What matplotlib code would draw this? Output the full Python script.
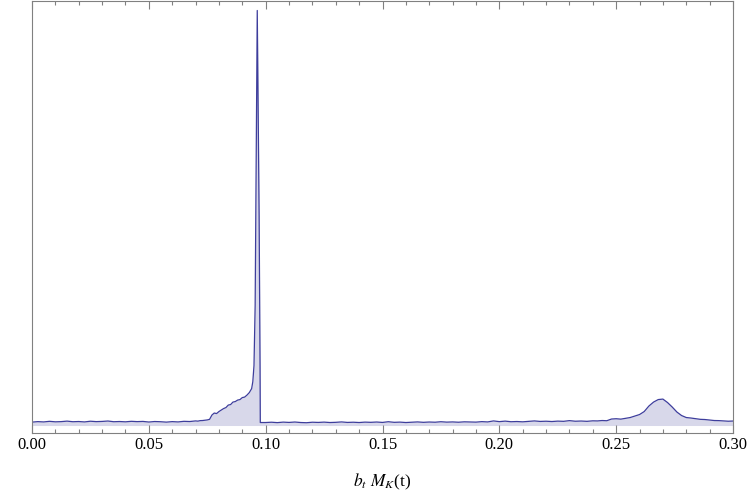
import matplotlib
matplotlib.use("Agg")
import matplotlib.pyplot as plt
from matplotlib.ticker import MultipleLocator, FormatStrFormatter

LINE = "#3d3d9c"; FILL = "#d8d8ea"; FRAME = "#808080"
plt.rcParams.update({"font.family": "Liberation Serif", "mathtext.fontset": "stix",
                     "font.size": 12})

# floor before the edge (step 0.0025)
x_low = [0.0000, 0.0025, 0.0050, 0.0075, 0.0100, 0.0125, 0.0150, 0.0175, 0.0200, 0.0225,
         0.0250, 0.0275, 0.0300, 0.0325, 0.0350, 0.0375, 0.0400, 0.0425, 0.0450, 0.0475,
         0.0500, 0.0525, 0.0550, 0.0575, 0.0600, 0.0625, 0.0650, 0.0675]
h_low = [3.4, 3.9, 3.6, 4.2, 3.7, 3.9, 4.4, 3.8, 4.0, 3.6,
         4.3, 3.9, 4.1, 4.5, 3.8, 4.0, 3.7, 4.2, 3.9, 4.1,
         3.5, 4.0, 3.8, 3.4, 3.9, 3.6, 4.2, 4.0]

# rise up to the edge and the spike
x_rise = [0.070, 0.071, 0.072, 0.073, 0.074, 0.075, 0.076, 0.077, 0.078, 0.079,
          0.080, 0.081, 0.082, 0.083, 0.084, 0.085, 0.086, 0.087, 0.088, 0.089,
          0.090, 0.091, 0.092, 0.093, 0.094, 0.0945, 0.0950, 0.0955, 0.0960, 0.0964,
          0.0972, 0.0976, 0.0977]
h_rise = [4.6, 4.4, 4.9, 5.0, 5.3, 5.6, 6.2, 10.5, 12.5, 12.0,
          14.0, 15.5, 17.0, 18.0, 20.5, 21.0, 23.5, 24.0, 25.5, 26.0,
          28.0, 28.5, 30.5, 33.0, 37.0, 44.0, 60.0, 120.0, 290.0, 416.0,
          210.0, 60.0, 3.0]

# flat stretch after the edge
x_mid = [0.1000, 0.1025, 0.1050, 0.1075, 0.1100, 0.1125, 0.1150, 0.1175, 0.1200, 0.1225,
         0.1250, 0.1275, 0.1300, 0.1325, 0.1350, 0.1375, 0.1400, 0.1425, 0.1450, 0.1475,
         0.1500, 0.1525, 0.1550, 0.1575, 0.1600, 0.1625, 0.1650, 0.1675, 0.1700, 0.1725,
         0.1750, 0.1775, 0.1800, 0.1825, 0.1850, 0.1875, 0.1900, 0.1925, 0.1950, 0.1975,
         0.2000, 0.2025, 0.2050, 0.2075, 0.2100, 0.2125, 0.2150, 0.2175, 0.2200, 0.2225,
         0.2250, 0.2275, 0.2300, 0.2325, 0.2350, 0.2375, 0.2400]
h_mid = [3.0, 3.3, 2.9, 3.4, 3.1, 3.5, 3.0, 2.8, 3.3, 3.1,
         3.4, 3.0, 3.2, 3.6, 3.1, 3.3, 3.0, 3.4, 3.2, 3.5,
         3.1, 3.8, 3.2, 3.4, 3.0, 3.3, 3.6, 3.2, 3.5, 3.3,
         3.8, 3.4, 3.6, 3.3, 3.7, 3.5, 3.4, 3.9, 3.6, 4.6,
         3.9, 4.4, 3.8, 4.0, 3.7, 4.2, 4.6, 4.1, 4.3, 4.0,
         4.4, 4.2, 4.9, 4.3, 4.5, 4.2, 4.7]

# second bump
x_bump = [0.242, 0.244, 0.246, 0.248, 0.250, 0.252, 0.254, 0.256, 0.258, 0.260,
          0.262, 0.264, 0.266, 0.268, 0.270, 0.272, 0.274, 0.276, 0.278, 0.280,
          0.282, 0.284, 0.286, 0.288, 0.290, 0.292, 0.294, 0.296, 0.298, 0.300]
h_bump = [4.6, 5.0, 4.8, 6.5, 6.8, 6.4, 7.2, 8.0, 9.5, 11.0,
          14.0, 19.5, 23.5, 26.0, 26.5, 23.0, 18.5, 13.5, 10.0, 8.0,
          7.5, 6.8, 6.2, 6.0, 5.5, 5.0, 4.9, 4.6, 4.3, 4.5]

xs = x_low + x_rise + x_mid + x_bump
hs = h_low + h_rise + h_mid + h_bump

fig = plt.figure(figsize=(7.47, 4.94), dpi=100)
ax = fig.add_axes([32 / 747, 61 / 494, 701 / 747, 432 / 494])
ax.fill_between(xs, 0, hs, color=FILL, lw=0)
ax.plot(xs, hs, color=LINE, lw=0.9)
ax.set_xlim(0, 0.30)
ax.set_ylim(-7.5, 425.5)

for s in ax.spines.values():
    s.set_color(FRAME); s.set_linewidth(0.8)
ax.xaxis.set_major_locator(MultipleLocator(0.05))
ax.xaxis.set_minor_locator(MultipleLocator(0.01))
ax.xaxis.set_major_formatter(FormatStrFormatter("%.2f"))
ax.tick_params(axis="x", which="both", direction="in", top=True, color=FRAME, width=0.8)
ax.tick_params(axis="x", which="major", length=5.8, pad=3, labelsize=12)
ax.tick_params(axis="x", which="minor", length=3)
ax.set_yticks([])

fig.text(382 / 747, 1 - 482 / 494, r"$b_t\ M_K$(t)", ha="center", va="center", fontsize=12.5)
fig.savefig("out.png", dpi=100)
